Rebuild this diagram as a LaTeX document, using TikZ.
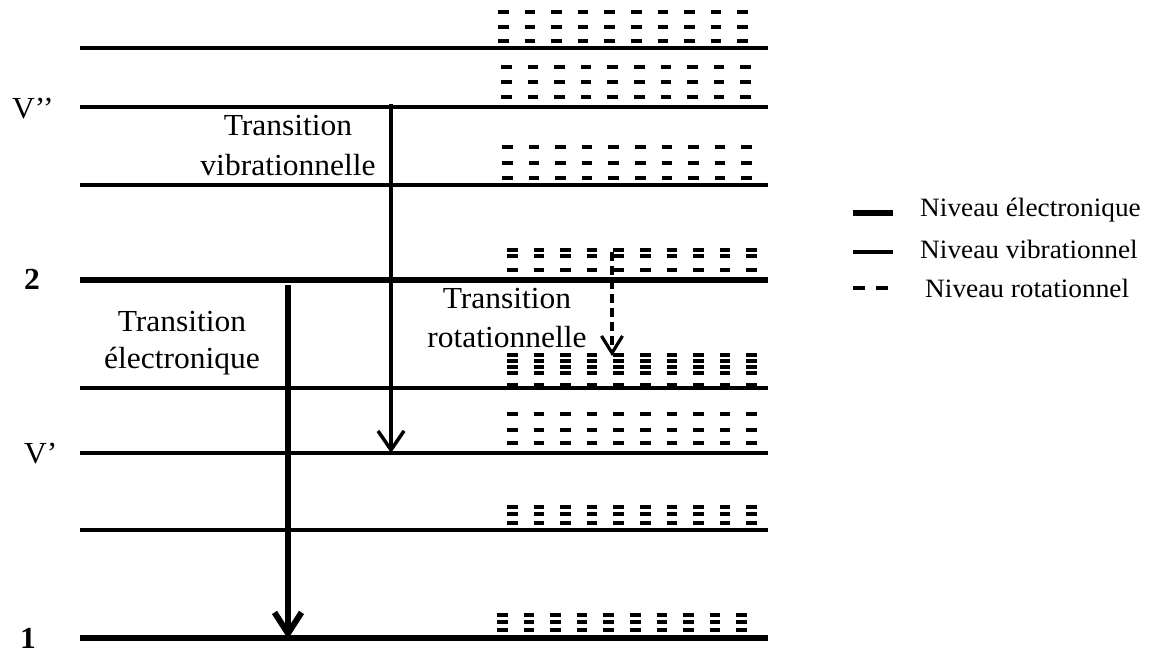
\documentclass[tikz,border=0pt]{standalone}
\usepackage{fontspec}
\setmainfont{Liberation Serif}[FakeStretch=1.03]
\usetikzlibrary{arrows.meta}
\newcommand\rotrow[2]{\foreach \k in {0,...,9} {\draw[rotdash] ({#1+\k*26.6},#2) -- ++(10.5,0);}}
\begin{document}
\begin{tikzpicture}[x=1pt,y=-1pt,
  thinlvl/.style={line width=3.2pt},
  thicklvl/.style={line width=6pt},
  rotdash/.style={line width=3.6pt},
  lbl/.style={font=\fontsize{30.6}{35}\selectfont, inner sep=0pt, anchor=base},
  leg/.style={font=\fontsize{26.5}{30}\selectfont, inner sep=0pt, anchor=base west},
  vibarrow/.style={line width=3.5pt, -{Straight Barb[length=19pt,width=26pt]}},
  elecarrow/.style={line width=6pt, -{Straight Barb[length=21pt,width=27pt]}},
  rotarrow/.style={line width=3.2pt, dash pattern=on 9pt off 5pt, -{Straight Barb[length=17pt,width=21pt]}}]
\useasboundingbox (0,0) rectangle (1153,653);
% levels
\draw[thinlvl] (80,48) -- (768,48);
\draw[thinlvl] (80,107) -- (768,107);
\draw[thinlvl] (80,185) -- (768,185);
\draw[thicklvl] (80,280) -- (768,280);
\draw[thinlvl] (80,388) -- (768,388);
\draw[thinlvl] (80,453) -- (768,453);
\draw[thinlvl] (80,530) -- (768,530);
\draw[thicklvl] (80,638) -- (768,638);
% rotational levels
\rotrow{498}{12}\rotrow{498}{27}\rotrow{498}{41}
\rotrow{501}{67}\rotrow{501}{82}\rotrow{501}{97}
\rotrow{502}{147}\rotrow{502}{163}\rotrow{502}{178}
\rotrow{507}{250}\rotrow{507}{256}\rotrow{507}{270}
\rotrow{507}{355}\rotrow{507}{361}\rotrow{507}{367}\rotrow{507}{373}\rotrow{507}{385}
\rotrow{507}{414}\rotrow{507}{430}\rotrow{507}{443}
\rotrow{507}{507}\rotrow{507}{514}\rotrow{507}{523}
\rotrow{497}{615}\rotrow{497}{622}\rotrow{497}{630}
% arrows
\coordinate (vs) at (391,104);
\coordinate (ve) at (391,453);
\coordinate (es) at (288,285);
\coordinate (ee) at (288,639);
\coordinate (rs) at (612,252);
\coordinate (re) at (612,356);
\draw[vibarrow] (vs) -- (ve);
\draw[elecarrow] (es) -- (ee);
\draw[rotarrow] (rs) -- (re);
% left labels
\node[lbl, anchor=base west] (vpp) at (12,118) {V’’};
\node[lbl, anchor=base west, font=\fontsize{30.6}{35}\selectfont\bfseries] (n2) at (24,289) {2};
\node[lbl, anchor=base west] (vp) at (24,463) {V’};
\node[lbl, anchor=base west, font=\fontsize{30.6}{35}\selectfont\bfseries] (n1) at (20,648) {1};
% transition labels
\node[lbl] (tv1) at (288,135) {Transition};
\node[lbl] (tv2) at (288,175) {vibrationnelle};
\node[lbl] (te1) at (182,331) {Transition};
\node[lbl] (te2) at (182,368) {électronique};
\node[lbl] (tr1) at (507,308) {Transition};
\node[lbl] (tr2) at (507,347) {rotationnelle};
% legend
\coordinate (l1a) at (853,213); \coordinate (l1b) at (893,213);
\coordinate (l2a) at (853,252); \coordinate (l2b) at (893,252);
\draw[thicklvl] (l1a) -- (l1b);
\draw[thinlvl] (l2a) -- (l2b);
\draw[rotdash] (853,288) -- (865,288);
\draw[rotdash] (876,288) -- (888,288);
\node[leg] (lg1) at (920,216) {Niveau électronique};
\node[leg] (lg2) at (920,258) {Niveau vibrationnel};
\node[leg] (lg3) at (925,297) {Niveau rotationnel};
\end{tikzpicture}
\end{document}
